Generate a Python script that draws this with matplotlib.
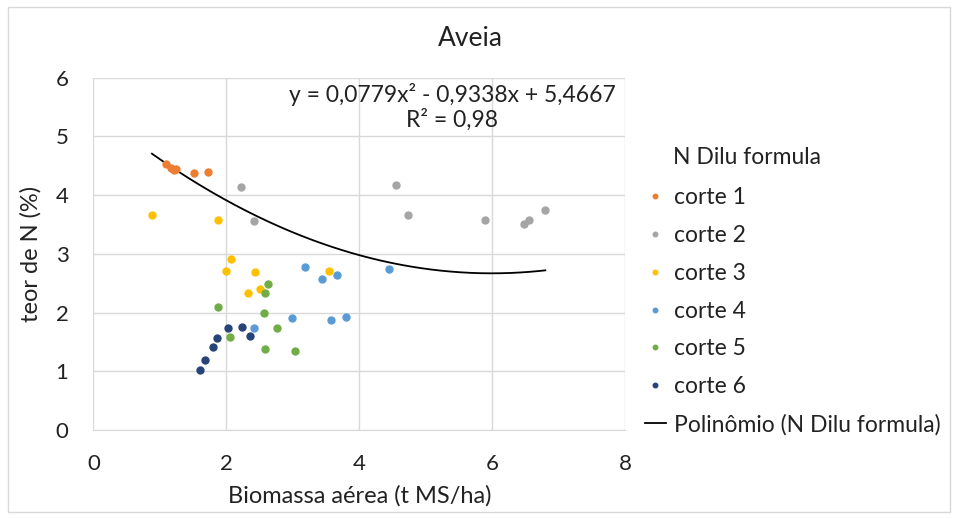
import numpy as np
import matplotlib
matplotlib.use("Agg")
import matplotlib.pyplot as plt
from matplotlib.patches import Rectangle

plt.rcParams["font.family"] = ["Lato", "DejaVu Sans"]

# biomassa aérea (t MS/ha) x teor de N (%) por corte
corte1_x = [1.09, 1.17, 1.21, 1.24, 1.51, 1.73]
corte1_y = [4.53, 4.47, 4.43, 4.45, 4.38, 4.39]
corte2_x = [2.22, 2.42, 4.55, 4.74, 5.89, 6.48, 6.56, 6.80]
corte2_y = [4.13, 3.56, 4.17, 3.66, 3.58, 3.51, 3.57, 3.74]
corte3_x = [0.88, 1.88, 2.07, 2.00, 2.43, 2.33, 2.51, 3.54]
corte3_y = [3.66, 3.58, 2.91, 2.71, 2.69, 2.34, 2.40, 2.71]
corte4_x = [2.42, 2.99, 3.19, 3.44, 3.66, 3.58, 3.80, 4.45]
corte4_y = [1.74, 1.91, 2.78, 2.57, 2.64, 1.87, 1.92, 2.75]
corte5_x = [2.62, 2.58, 1.88, 2.57, 2.76, 2.05, 2.58, 3.03]
corte5_y = [2.49, 2.33, 2.10, 1.99, 1.74, 1.59, 1.38, 1.34]
corte6_x = [2.03, 2.23, 2.35, 1.86, 1.80, 1.68, 1.60]
corte6_y = [1.74, 1.76, 1.60, 1.56, 1.41, 1.19, 1.03]

# polinomio de 2a ordem (linha de tendencia)
coef = [0.0779, -0.9338, 5.4667]
r2 = 0.98

series = [
    ("corte 1", corte1_x, corte1_y, "#ED7D31"),
    ("corte 2", corte2_x, corte2_y, "#A5A5A5"),
    ("corte 3", corte3_x, corte3_y, "#FFC000"),
    ("corte 4", corte4_x, corte4_y, "#5B9BD5"),
    ("corte 5", corte5_x, corte5_y, "#70AD47"),
    ("corte 6", corte6_x, corte6_y, "#264478"),
]
txt = "#222222"

fig = plt.figure(figsize=(9.56, 5.19), dpi=100)
fig.patches.append(Rectangle((8 / 956, 7 / 519), 942 / 956, 505 / 519, transform=fig.transFigure,
                             fill=False, edgecolor="#D9D9D9", lw=1))
ax = fig.add_axes([0.0978, 0.1715, 0.556, 0.6788])

for name, xs, ys, cor in series:
    ax.plot(xs, ys, "o", ms=5, color=cor, label=name, zorder=3)

all_x = np.concatenate([s[1] for s in series])
xf = np.linspace(min(all_x), max(all_x), 200)
ax.plot(xf, np.polyval(coef, xf), color="black", lw=1.3, label="Polinômio (N Dilu formula)", zorder=2)

eq = "y = {:.4f}x² - {:.4f}x + {:.4f}".format(coef[0], -coef[1], coef[2]).replace(".", ",")
ax.text(0.675, 0.985, eq + "\nR² = " + str(r2).replace(".", ","),
        transform=ax.transAxes, ha="center", va="top", fontsize=16.5, linespacing=1.15, color=txt)

ax.set_xlim(0, 8)
ax.set_ylim(0, 6)
ax.set_xticks([0, 2, 4, 6, 8])
ax.set_yticks([0, 1, 2, 3, 4, 5, 6])
ax.grid(True, color="#D9D9D9", lw=1)
ax.set_axisbelow(True)
for s in ["top", "right", "left"]:
    ax.spines[s].set_visible(False)
ax.spines["bottom"].set_color("#D9D9D9")
ax.tick_params(length=0, labelsize=16, colors=txt, pad=17)
ax.tick_params(axis="y", pad=18)

fig.text(470 / 956, 1 - 38 / 519, "Aveia", fontsize=19, color=txt, ha="center", va="center")
ax.set_xlabel("Biomassa aérea (t MS/ha)", fontsize=17, color=txt, labelpad=8)
ax.set_ylabel("teor de N (%)", fontsize=17, color=txt, labelpad=10)

leg = ax.legend(loc="upper left", bbox_to_anchor=(1.016, 0.721), frameon=False, fontsize=16.5,
                handlelength=0.9, handletextpad=0.35, labelspacing=0.73, borderpad=0,
                markerscale=0.65)
for t in leg.get_texts():
    t.set_color(txt)
fig.text(673 / 956, 1 - 158 / 519, "N Dilu formula", fontsize=16.5, color=txt, ha="left", va="center")

fig.savefig("out.png", dpi=100)
